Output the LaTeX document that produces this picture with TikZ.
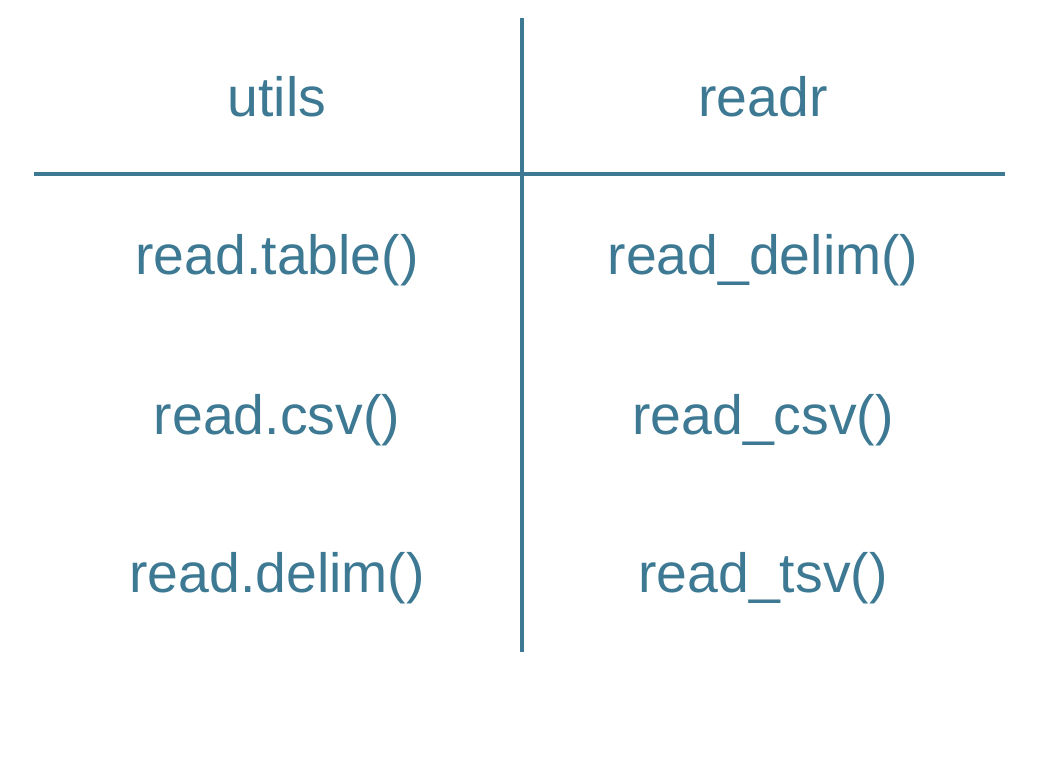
\documentclass[tikz,border=0pt]{standalone}
\usepackage{fontspec}
\setmainfont{Liberation Sans}
\definecolor{rblue}{RGB}{62, 121, 148}
\begin{document}
\begin{tikzpicture}[
    cell/.style={text=rblue, font=\fontsize{31.5}{36}\selectfont, inner sep=0pt},
    rule/.style={draw=rblue, line width=2.3pt}
]
    \useasboundingbox (0, 0) rectangle (20.9, -15.6);

    % Rules
    \coordinate (top) at (10.44, -0.36);
    \coordinate (bottom) at (10.44, -13.04);
    \coordinate (left) at (0.68, -3.48);
    \coordinate (right) at (20.1, -3.48);
    \draw[rule] (top) -- (bottom);
    \draw[rule] (left) -- (right);

    % Headers
    \node[cell] (utils) at (5.54, -1.94) {utils};
    \node[cell] (readr) at (15.26, -1.94) {readr};

    % Functions
    \node[cell] (table) at (5.54, -5.2) {read.table()};
    \node[cell] (csv) at (5.54, -8.4) {read.csv()};
    \node[cell] (delim) at (5.54, -11.56) {read.delim()};
    \node[cell] (rdelim) at (15.26, -5.2) {read\_delim()};
    \node[cell] (rcsv) at (15.26, -8.4) {read\_csv()};
    \node[cell] (rtsv) at (15.26, -11.56) {read\_tsv()};
\end{tikzpicture}
\end{document}
